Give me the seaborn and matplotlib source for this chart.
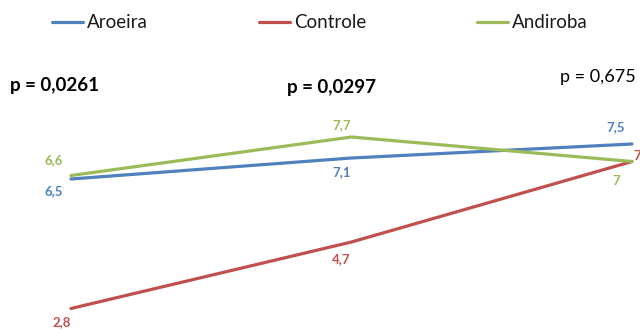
import matplotlib
matplotlib.use("Agg")
import matplotlib.pyplot as plt
from matplotlib.lines import Line2D
import seaborn as sns
import pandas as pd

# Time points and measured values per treatment
periods = [0, 1, 2]
aroeira = [6.5, 7.1, 7.5]
controle = [2.8, 4.7, 7.0]
andiroba = [6.6, 7.7, 7.0]
series_names = ["Aroeira", "Controle", "Andiroba"]
p_values = ["p = 0,0261", "p = 0,0297", "p = 0,675"]
p_bold = [True, True, False]

colors = {"Aroeira": "#4F81BD", "Controle": "#C0504D", "Andiroba": "#9BBB59"}

df = pd.DataFrame({
    "periodo": periods * 3,
    "valor": aroeira + controle + andiroba,
    "grupo": ["Aroeira"] * 3 + ["Controle"] * 3 + ["Andiroba"] * 3,
})

sns.set_theme(style="white")
plt.rcParams["font.family"] = ["Lato", "DejaVu Sans"]

fig = plt.figure(figsize=(6.4, 3.3), dpi=100)
ax = fig.add_axes([0, 0, 1, 1])
sns.lineplot(data=df, x="periodo", y="valor", hue="grupo", hue_order=series_names,
             palette=colors, linewidth=2.3, legend=False, ax=ax)

ax.set_xlim(-0.253, 2.0285)
ax.set_ylim(2.186, 11.614)
ax.set_axis_off()

def fmt(v):
    s = f"{v:.1f}".replace(".", ",")
    return s[:-2] if s.endswith(",0") else s

# Data label offsets (pixels) and alignment per series and point
offsets = {
    "Aroeira": [(-17, -12, "center"), (-10, -14, "center"), (-16, 17, "center")],
    "Andiroba": [(-17, 15, "center"), (-10, 12, "center"), (-16, -20, "center")],
    "Controle": [(-9, -14, "center"), (-10, -17, "center"), (1, 5, "left")],
}
values = {"Aroeira": aroeira, "Controle": controle, "Andiroba": andiroba}
for name in series_names:
    for x, v, (dx, dy, ha) in zip(periods, values[name], offsets[name]):
        ax.annotate(fmt(v), (x, v), xytext=(dx, dy), textcoords="offset pixels",
                    ha=ha, va="center", fontsize=9.5, fontweight="bold",
                    color=colors[name], clip_on=False)

# p-value annotations above each period
p_pos = [(10, 85), (287, 87), (560, 77)]
for (px, py), txt, b in zip(p_pos, p_values, p_bold):
    fig.text(px / 640, 1 - py / 330, txt, ha="left", va="center",
             fontsize=13.5 if b else 13, fontweight="bold" if b else "normal",
             color="#000000")

# Legend entries spread across the top
leg_x = [52, 259, 477]
for name, lx in zip(series_names, leg_x):
    h = Line2D([], [], color=colors[name], linewidth=2.3)
    leg = fig.legend([h], [name], loc="center left",
                     bbox_to_anchor=(lx / 640, 1 - 23 / 330),
                     frameon=False, fontsize=13.5, handlelength=1.65,
                     handletextpad=0.2, borderpad=0, borderaxespad=0)
    for t in leg.get_texts():
        t.set_color("#1a1a1a")

fig.savefig("out.png", dpi=100)
